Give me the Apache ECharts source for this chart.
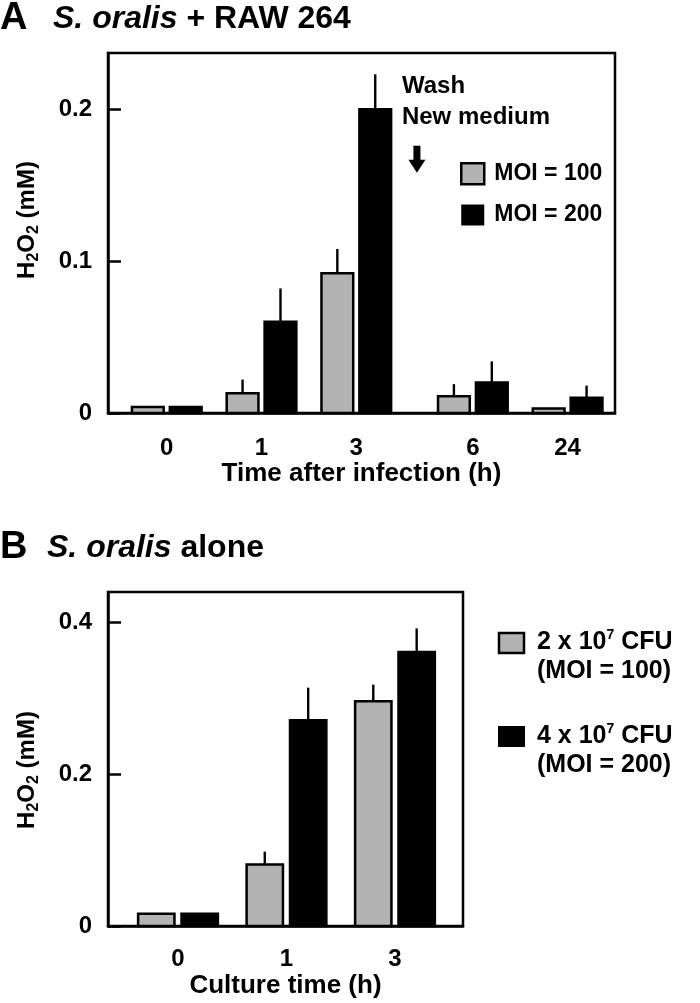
<!DOCTYPE html>
<html><head><meta charset="utf-8">
<script src="https://cdn.jsdelivr.net/npm/echarts@6/dist/echarts.min.js"></script>
<style>html,body{margin:0;padding:0;background:#fff}#c{width:700px;height:1003px}</style>
</head><body><div id="c"></div>
<script>
// ---------- Panel A data ----------
const timesA = ['0', '1', '3', '6', '24'];
const slotsA = [0, 1, 2, 3.23, 4.23];          // slot positions (gap after 3 h for wash)
const moi100A = [0.004, 0.013, 0.092, 0.011, 0.003];
const moi100ErrA = [0, 0.009, 0.016, 0.008, 0];
const moi200A = [0.004, 0.060, 0.200, 0.020, 0.010];
const moi200ErrA = [0, 0.022, 0.023, 0.014, 0.008];
const yTicksA = [0, 0.1, 0.2];
// ---------- Panel B data ----------
const timesB = ['0', '1', '3'];
const slotsB = [0, 1, 2];
const cfu2B = [0.016, 0.081, 0.296];
const cfu2ErrB = [0, 0.017, 0.022];
const cfu4B = [0.016, 0.271, 0.361];
const cfu4ErrB = [0, 0.043, 0.031];
const yTicksB = [0, 0.2, 0.4];

const FONT = '"Liberation Sans", Arial, Helvetica, sans-serif';
const GRAY = '#b3b3b3';
const BAR_W = 0.335, OFF = 0.2;

function rows(slots, vals, errs) { return slots.map((s, i) => [s, vals[i], errs[i]]); }
function barRenderer(offset, fill) {
  return function (params, api) {
    const x = api.value(0) + offset, v = api.value(1), e = api.value(2);
    const base = api.coord([x, 0]);
    const top = api.coord([x, v]);
    const errTop = api.coord([x, v + e]);
    const w = api.size([BAR_W, 0])[0];
    const children = [{
      type: 'rect',
      shape: { x: base[0] - w / 2, y: top[1], width: w, height: base[1] - top[1] },
      style: { fill: fill, stroke: '#000', lineWidth: 2.5 }
    }];
    if (e > 0) children.push({
      type: 'line',
      shape: { x1: top[0], y1: top[1], x2: top[0], y2: errTop[1] },
      style: { stroke: '#000', lineWidth: 2.4 }
    });
    return { type: 'group', children: children };
  };
}
function labelFor(slots, names) {
  return v => { const i = slots.findIndex(s => Math.abs(s - v) < 1e-6); return i >= 0 ? names[i] : ''; };
}
const yName = '{n|H}{s|2}{n|O}{s|2}{n| (mM)}';
function yNameStyle(pad) {
  return {
    fontFamily: FONT, fontWeight: 'bold', fontSize: 24, color: '#000', padding: pad,
    rich: {
      n: { fontFamily: FONT, fontWeight: 'bold', fontSize: 24, lineHeight: 30, color: '#000' },
      s: { fontFamily: FONT, fontWeight: 'bold', fontSize: 16, lineHeight: 16, verticalAlign: 'bottom', color: '#000' }
    }
  };
}
const axisLine = { show: true, onZero: false, lineStyle: { color: '#000', width: 2.5 } };
const labelStyle = { fontFamily: FONT, fontWeight: 'bold', fontSize: 24, color: '#000' };

function xAxis(grid, slots, names, min, max, name, gap, margin) {
  return {
    type: 'value', gridIndex: grid, min: min, max: max,
    axisLine: axisLine, axisTick: { show: false }, splitLine: { show: false },
    axisLabel: Object.assign({ customValues: slots, formatter: labelFor(slots, names), margin: margin, showMinLabel: true, showMaxLabel: true }, labelStyle),
    name: name, nameLocation: 'middle', nameGap: gap,
    nameTextStyle: { fontFamily: FONT, fontWeight: 'bold', fontSize: 26, color: '#000' }
  };
}
function yAxis(grid, ticks, max, pad) {
  return {
    type: 'value', gridIndex: grid, min: 0, max: max,
    axisLine: axisLine,
    axisTick: { show: true, inside: true, length: 13, customValues: ticks, lineStyle: { color: '#000', width: 2.5 } },
    axisLabel: Object.assign({ customValues: ticks, margin: 16, formatter: v => String(v) }, labelStyle),
    splitLine: { show: false },
    name: yName, nameLocation: 'middle', nameGap: 66, nameRotate: 90, nameTextStyle: yNameStyle(pad)
  };
}
function titleRich(w) {
  return {
    l: { fontFamily: FONT, fontWeight: 'bold', fontSize: 38, width: w, color: '#000' },
    i: { fontFamily: FONT, fontWeight: 'bold', fontStyle: 'italic', fontSize: 32, color: '#000' },
    n: { fontFamily: FONT, fontWeight: 'bold', fontSize: 32, color: '#000' }
  };
}

const chart = echarts.init(document.getElementById('c'), null, { renderer: 'canvas' });
const option = {
  backgroundColor: '#fff',
  animation: false,
  title: [
    { text: '{l|A}{i|S. oralis}{n| + RAW 264}', left: 0, top: 0, padding: 0, textStyle: { rich: titleRich(53) } },
    { text: '{l|B}{i|S. oralis}{n| alone}', left: 0, top: 529, padding: 0, textStyle: { rich: titleRich(47) } }
  ],
  grid: [
    { left: 108, top: 53, width: 507, height: 360, show: true, borderColor: '#000', borderWidth: 2.5, backgroundColor: 'transparent' },
    { left: 108, top: 592, width: 355, height: 334, show: true, borderColor: '#000', borderWidth: 2.5, backgroundColor: 'transparent' }
  ],
  xAxis: [
    xAxis(0, slotsA, timesA, -0.62, 4.73, 'Time after infection (h)', 44, 23),
    xAxis(1, slotsB, timesB, -0.645, 2.627, 'Culture time (h)', 47, 21)
  ],
  yAxis: [yAxis(0, yTicksA, 0.237, [0, 0, 0, 26]), yAxis(1, yTicksB, 0.44, [0, 22, 0, 0])],
  legend: [{
    data: [
      { name: 'MOI = 100', itemStyle: { color: GRAY, borderColor: '#000', borderWidth: 2.5 } },
      { name: 'MOI = 200', itemStyle: { color: '#000', borderWidth: 0 } }
    ],
    orient: 'vertical', left: 460, top: 162, padding: 0, icon: 'rect',
    itemWidth: 23, itemHeight: 21, itemGap: 18, selectedMode: false,
    textStyle: { fontFamily: FONT, fontWeight: 'bold', fontSize: 23, color: '#000', padding: [0, 0, 0, 5] }
  }],
  series: [
    { type: 'custom', name: 'MOI = 100', xAxisIndex: 0, yAxisIndex: 0, itemStyle: { color: GRAY },
      renderItem: barRenderer(-OFF, GRAY), data: rows(slotsA, moi100A, moi100ErrA), encode: { x: 0, y: [1, 2] } },
    { type: 'custom', name: 'MOI = 200', xAxisIndex: 0, yAxisIndex: 0, itemStyle: { color: '#000' },
      renderItem: barRenderer(OFF, '#000'), data: rows(slotsA, moi200A, moi200ErrA), encode: { x: 0, y: [1, 2] } },
    { type: 'custom', name: '2 x 10^7 CFU (MOI = 100)', xAxisIndex: 1, yAxisIndex: 1, itemStyle: { color: GRAY },
      renderItem: barRenderer(-OFF, GRAY), data: rows(slotsB, cfu2B, cfu2ErrB), encode: { x: 0, y: [1, 2] } },
    { type: 'custom', name: '4 x 10^7 CFU (MOI = 200)', xAxisIndex: 1, yAxisIndex: 1, itemStyle: { color: '#000' },
      renderItem: barRenderer(OFF, '#000'), data: rows(slotsB, cfu4B, cfu4ErrB), encode: { x: 0, y: [1, 2] } }
  ]
};
chart.setOption(option);

// annotations (wash arrow + text) anchored to data coordinates of panel A
const anchor = chart.convertToPixel({ xAxisIndex: 0, yAxisIndex: 0 }, [2.64, 0.176]);
const legRich = {
  t: { fontFamily: FONT, fontWeight: 'bold', fontSize: 25, lineHeight: 29, fill: '#000', color: '#000' },
  p: { fontFamily: FONT, fontWeight: 'bold', fontSize: 14, lineHeight: 14, verticalAlign: 'top', fill: '#000', color: '#000' }
};
chart.setOption({
  graphic: [
    { type: 'text', left: anchor[0] - 15, top: anchor[1] - 75,
      style: { text: 'Wash\nNew medium', font: 'bold 24px ' + FONT, lineHeight: 31, fill: '#000' } },
    { type: 'polygon', shape: { points: [
        [anchor[0] - 3.5, anchor[1]], [anchor[0] + 3.5, anchor[1]], [anchor[0] + 3.5, anchor[1] + 14],
        [anchor[0] + 8.5, anchor[1] + 14], [anchor[0], anchor[1] + 27], [anchor[0] - 8.5, anchor[1] + 14],
        [anchor[0] - 3.5, anchor[1] + 14]] }, style: { fill: '#000' } },
    // legend of panel B
    { type: 'rect', shape: { x: 499, y: 633, width: 25, height: 20 }, style: { fill: GRAY, stroke: '#000', lineWidth: 2.5 } },
    { type: 'text', x: 537, y: 628, style: { text: '{t|2 x 10}{p|7}{t| CFU}\n{t|(MOI = 100)}', rich: legRich, fill: '#000' } },
    { type: 'rect', shape: { x: 498, y: 726, width: 27, height: 21 }, style: { fill: '#000' } },
    { type: 'text', x: 537, y: 722, style: { text: '{t|4 x 10}{p|7}{t| CFU}\n{t|(MOI = 200)}', rich: legRich, fill: '#000' } }
  ]
});
</script>
</body></html>
